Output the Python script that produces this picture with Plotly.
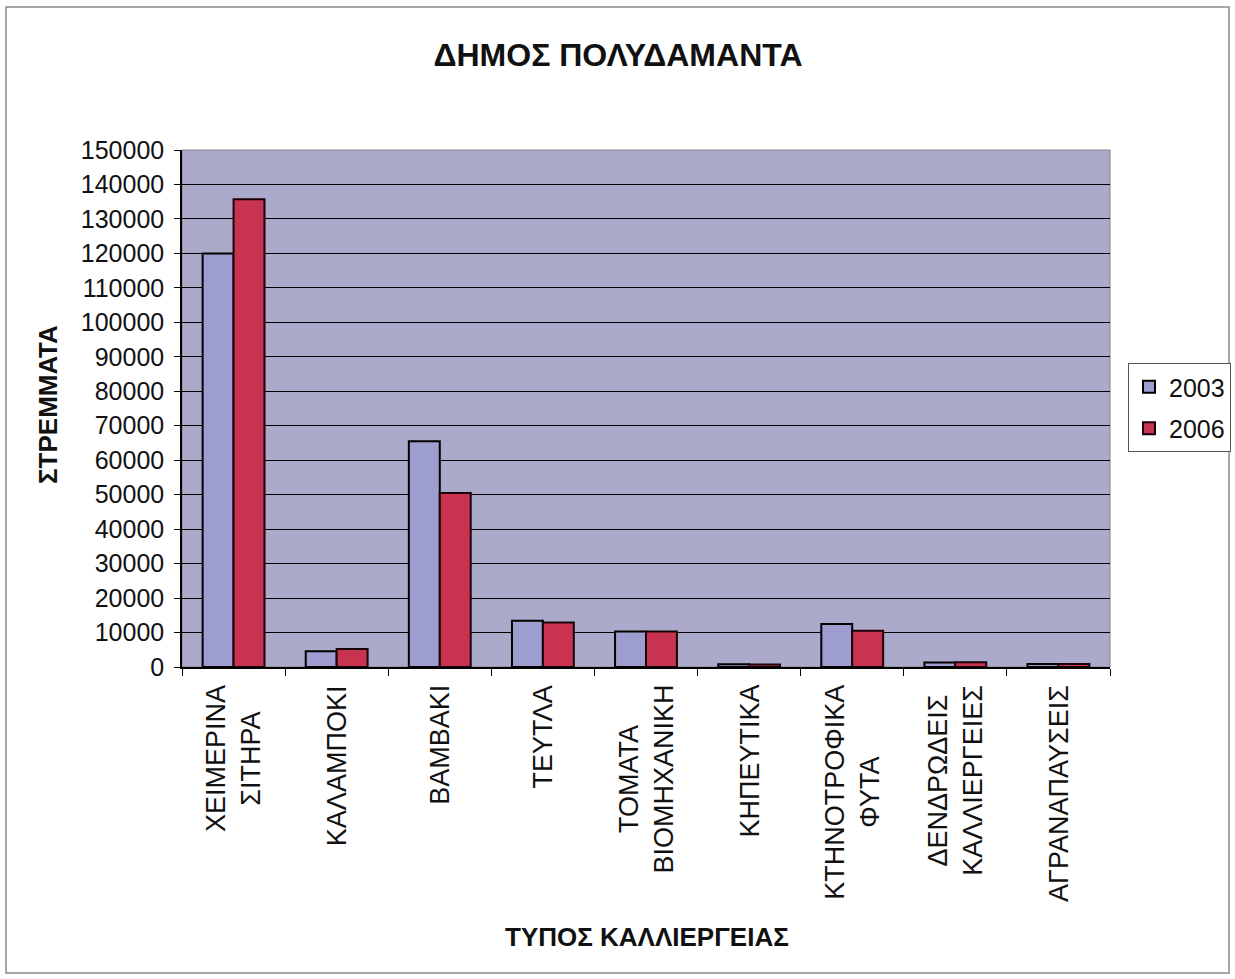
import plotly.graph_objects as go

# Crop types (x categories) and cultivated area in stremmata per year
categories = [
    "ΧΕΙΜΕΡΙΝΑ ΣΙΤΗΡΑ",
    "ΚΑΛΑΜΠΟΚΙ",
    "ΒΑΜΒΑΚΙ",
    "ΤΕΥΤΛΑ",
    "ΤΟΜΑΤΑ ΒΙΟΜΗΧΑΝΙΚΗ",
    "ΚΗΠΕΥΤΙΚΑ",
    "ΚΤΗΝΟΤΡΟΦΙΚΑ ΦΥΤΑ",
    "ΔΕΝΔΡΩΔΕΙΣ ΚΑΛΛΙΕΡΓΕΙΕΣ",
    "ΑΓΡΑΝΑΠΑΥΣΕΙΣ",
]
category_labels = [
    "ΧΕΙΜΕΡΙΝΑ<br>ΣΙΤΗΡΑ",
    "ΚΑΛΑΜΠΟΚΙ",
    "ΒΑΜΒΑΚΙ",
    "ΤΕΥΤΛΑ",
    "ΤΟΜΑΤΑ<br>ΒΙΟΜΗΧΑΝΙΚΗ",
    "ΚΗΠΕΥΤΙΚΑ",
    "ΚΤΗΝΟΤΡΟΦΙΚΑ<br>ΦΥΤΑ",
    "ΔΕΝΔΡΩΔΕΙΣ<br>ΚΑΛΛΙΕΡΓΕΙΕΣ",
    "ΑΓΡΑΝΑΠΑΥΣΕΙΣ",
]
values_2003 = [120000, 4600, 65500, 13400, 10300, 800, 12500, 1300, 900]
values_2006 = [135700, 5200, 50500, 12900, 10300, 700, 10500, 1400, 900]
series_names = ["2003", "2006"]
y_ticks = list(range(0, 150001, 10000))

FONT = "Liberation Sans, Arial, sans-serif"
W, H = 1235, 979
L, R, T, B = 182, 125, 150, 312
PW, PH = W - L - R, H - T - B


def px_to_paper_x(px):
    return (px - L) / PW


def px_to_paper_y(py):
    return (H - B - py) / PH


fig = go.Figure()
fig.add_trace(go.Bar(
    x=categories, y=values_2003, name=series_names[0], legendgroup="a",
    marker=dict(color="#9d9dcf", line=dict(color="#000000", width=2)),
))
fig.add_trace(go.Bar(
    x=categories, y=values_2006, name=series_names[1], legendgroup="b",
    marker=dict(color="#c8344f", line=dict(color="#1a0008", width=2)),
))

# Category labels, rotated, with centred lines
annotations = []
for cat, label in zip(categories, category_labels):
    annotations.append(dict(
        x=cat, xref="x", y=px_to_paper_y(683), yref="paper",
        text=label, textangle=-90, showarrow=False,
        xanchor="center", yanchor="top", align="center",
        font=dict(family=FONT, size=27, color="#111111"),
    ))

annotations.append(dict(
    x=px_to_paper_x(647), xref="paper", y=px_to_paper_y(937), yref="paper",
    text="<b>ΤΥΠΟΣ ΚΑΛΛΙΕΡΓΕΙΑΣ</b>", showarrow=False,
    xanchor="center", yanchor="middle",
    font=dict(family=FONT, size=26, color="#111111"),
))
annotations.append(dict(
    x=px_to_paper_x(48), xref="paper", y=px_to_paper_y(405), yref="paper",
    text="<b>ΣΤΡΕΜΜΑΤΑ</b>", textangle=-90, showarrow=False,
    xanchor="center", yanchor="middle",
    font=dict(family=FONT, size=26, color="#111111"),
))

# Outer chart border and plot-area frame
shapes = [
    dict(type="rect", xref="paper", yref="paper",
         x0=px_to_paper_x(6), x1=px_to_paper_x(1229),
         y0=px_to_paper_y(973), y1=px_to_paper_y(7),
         line=dict(color="#8a8a8a", width=1.5), fillcolor="rgba(0,0,0,0)"),
    dict(type="rect", xref="paper", yref="paper", x0=0, x1=1, y0=0, y1=1,
         line=dict(color="#808080", width=1), layer="below",
         fillcolor="rgba(0,0,0,0)"),
]

fig.update_layout(
    width=W, height=H,
    margin=dict(l=L, r=R, t=T, b=B, autoexpand=False),
    paper_bgcolor="#ffffff",
    plot_bgcolor="#acaacb",
    barmode="group",
    bargap=0.4,
    bargroupgap=0,
    title=dict(
        text="<b>ΔΗΜΟΣ ΠΟΛΥΔΑΜΑΝΤΑ</b>",
        x=618 / W, xanchor="center",
        y=1 - 55 / H, yanchor="middle",
        font=dict(family=FONT, size=32, color="#111111"),
    ),
    xaxis=dict(
        type="category",
        showticklabels=False,
        tickson="boundaries",
        ticks="outside", ticklen=7, tickcolor="#000000", tickwidth=1,
        showline=True, linecolor="#000000", linewidth=1.5,
        showgrid=False, zeroline=False,
    ),
    yaxis=dict(
        range=[0, 150000],
        tickmode="array",
        tickvals=y_ticks,
        ticktext=[str(v) for v in y_ticks],
        ticks="outside", ticklen=6, tickcolor="#000000",
        ticklabelstandoff=5,
        showline=True, linecolor="#000000", linewidth=1.5,
        showgrid=True, gridcolor="#000000", gridwidth=1,
        zeroline=False,
        tickfont=dict(family=FONT, size=25, color="#111111"),
    ),
    legend=dict(
        x=px_to_paper_x(1128), xanchor="left",
        y=px_to_paper_y(363), yanchor="top",
        bgcolor="#ffffff", bordercolor="#555555", borderwidth=1,
        font=dict(family=FONT, size=25, color="#111111"),
        itemwidth=30,
        tracegroupgap=6,
    ),
    annotations=annotations,
    shapes=shapes,
)

fig.write_html("out.html")
